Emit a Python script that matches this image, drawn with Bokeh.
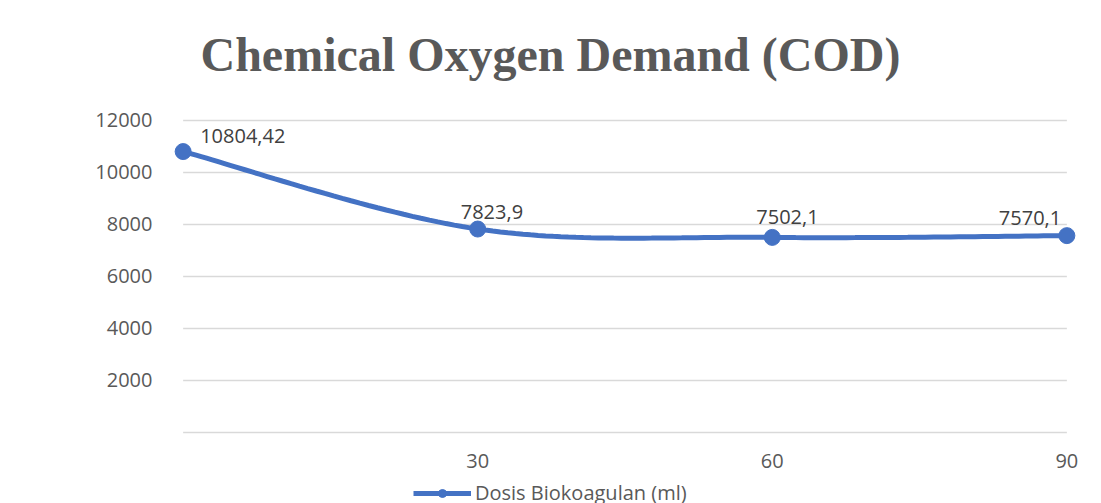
import numpy as np
from bokeh.plotting import figure
from bokeh.layouts import column
from bokeh.models import Range1d, FixedTicker, Legend, LegendItem, ColumnDataSource
from bokeh.core.properties import value
from bokeh.embed import file_html
from bokeh.resources import INLINE

# ---- data ----
dose = [0, 30, 60, 90]
cod = [10804.42, 7823.9, 7502.1, 7570.1]
cod_labels = [f"{v}".replace(".", ",") for v in cod]
x_ticks = [30, 60, 90]
y_ticks = [2000, 4000, 6000, 8000, 10000, 12000]
grid_levels = [0, 2000, 4000, 6000, 8000, 10000, 12000]
title_text = "Chemical Oxygen Demand (COD)"
legend_text = "Dosis Biokoagulan (ml)"

BLUE = "#4472C4"
GREY = "#595959"


def smooth(xs, ys, steps=40):
    """Catmull-Rom style smoothed line through the given points (like a smoothed spreadsheet line)."""
    P = np.column_stack([xs, ys]).astype(float)
    n = len(P)
    T = np.zeros_like(P)
    for i in range(n):
        T[i] = (P[min(i + 1, n - 1)] - P[max(i - 1, 0)]) / 2.0
    out = []
    t = np.linspace(0, 1, steps)
    h00 = 2 * t**3 - 3 * t**2 + 1
    h10 = t**3 - 2 * t**2 + t
    h01 = -2 * t**3 + 3 * t**2
    h11 = t**3 - t**2
    for i in range(n - 1):
        seg = (np.outer(h00, P[i]) + np.outer(h10, T[i])
               + np.outer(h01, P[i + 1]) + np.outer(h11, T[i + 1]))
        out.append(seg if i == 0 else seg[1:])
    arr = np.vstack(out)
    return arr[:, 0], arr[:, 1]


cx, cy = smooth(dose, cod)

p = figure(frame_width=923, frame_height=332,
           x_range=Range1d(-2, 92), y_range=Range1d(-120, 12654),
           output_backend="svg", toolbar_location=None,
           min_border_left=163, min_border_right=6,
           min_border_top=103, min_border_bottom=47)

p.xgrid.visible = False
p.ygrid.visible = False
p.outline_line_color = None
p.background_fill_color = "white"
p.border_fill_color = "white"

# horizontal gridlines spanning the category extent
p.segment(x0=dose[0], x1=dose[-1], y0=grid_levels, y1=grid_levels,
          line_color="#D9D9D9", line_width=1.5)

# title
p.title.text = title_text
p.title.text_font = "Liberation Serif"
p.title.text_font_size = "48px"
p.title.text_font_style = "bold"
p.title.text_color = GREY
p.title.align = "left"
p.title.offset = 37
p.title.standoff = 46

for ax in (p.xaxis, p.yaxis):
    ax.axis_line_color = None
    ax.major_tick_line_color = None
    ax.minor_tick_line_color = None
    ax.major_tick_out = 0
    ax.major_tick_in = 0
    ax.minor_tick_out = 0
    ax.minor_tick_in = 0
    ax.axis_label_standoff = 0
    ax.major_label_text_font = "Open Sans"
    ax.major_label_text_font_size = "20px"
    ax.major_label_text_color = GREY

p.xaxis.ticker = FixedTicker(ticks=x_ticks)
p.yaxis.ticker = FixedTicker(ticks=y_ticks)
p.xaxis.major_label_standoff = 18
p.yaxis.major_label_standoff = 11

r_line = p.line(cx, cy, line_color=BLUE, line_width=5)
r_pts = p.scatter(dose, cod, size=16, fill_color=BLUE, line_color=BLUE)

src = ColumnDataSource(dict(x=dose, y=cod, t=cod_labels,
                            dx=[17, -17, -16, -68], dy=[-16, -17, -20, -18]))
p.text("x", "y", "t", x_offset="dx", y_offset="dy", source=src,
       text_font=value("Open Sans"), text_font_size=value("20px"),
       text_color="#404040", text_baseline="middle", text_align="left")

# legend strip below the chart: the same series, kept out of view, drives the legend glyph
p2 = figure(width=1092, height=21, output_backend="svg", toolbar_location=None,
            x_range=Range1d(-2, 92), y_range=Range1d(30000, 30001),
            x_axis_location=None, y_axis_location=None,
            min_border=0, min_border_left=0, min_border_right=0,
            min_border_top=0, min_border_bottom=0)
p2.outline_line_color = None
p2.background_fill_color = "white"
p2.border_fill_color = "white"
p2.grid.visible = False
l_line = p2.line(cx, cy, line_color=BLUE, line_width=5)
l_pts = p2.scatter(dose, cod, size=16, fill_color=BLUE, line_color=BLUE)

legend = Legend(items=[LegendItem(label=legend_text, renderers=[l_line, l_pts])],
                location=(250, -3), orientation="horizontal",
                glyph_width=58, glyph_height=20, label_standoff=4,
                padding=0, margin=0, spacing=0,
                border_line_color=None, background_fill_alpha=0,
                label_text_font="Open Sans", label_text_font_size="20px",
                label_text_color=GREY)
p2.add_layout(legend, "center")

layout = column(p, p2, spacing=0)
open("out.html", "w").write(file_html(layout, INLINE))
